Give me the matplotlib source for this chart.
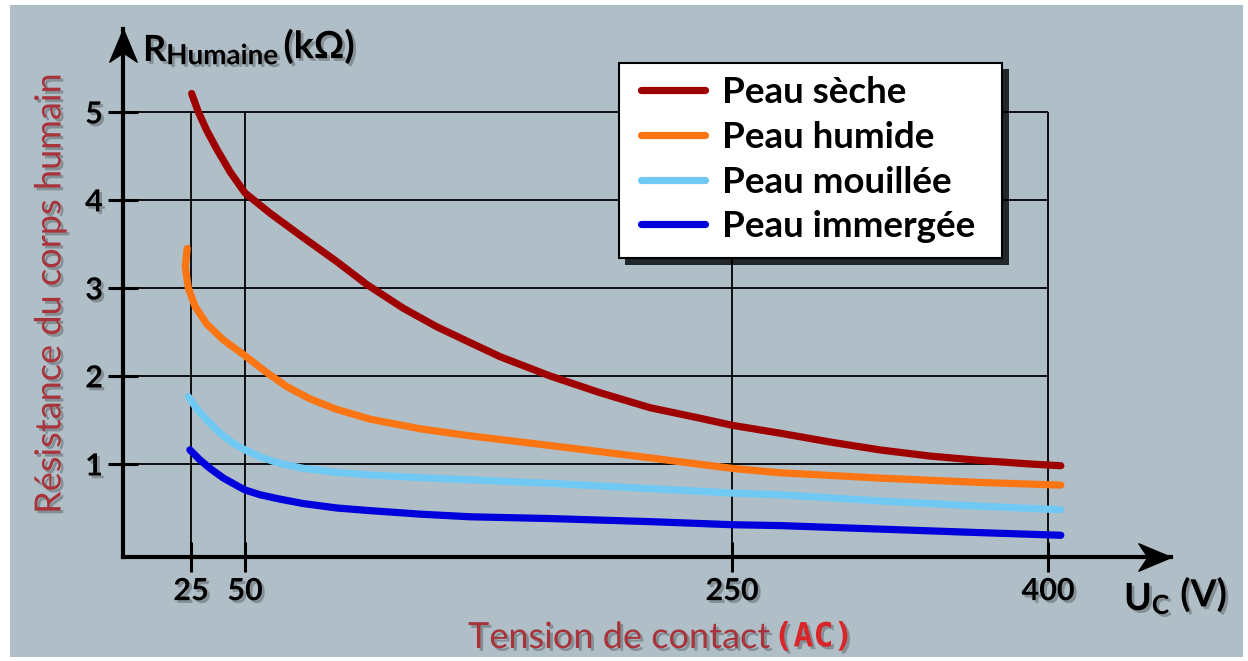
"""Body resistance versus contact voltage for four skin conditions."""

import matplotlib

matplotlib.use("Agg")
import matplotlib.pyplot as plt
import matplotlib.patheffects as pe
import numpy as np
from matplotlib.lines import Line2D
from matplotlib.markers import MarkerStyle
from matplotlib.patches import Rectangle
from matplotlib.path import Path
from matplotlib.ticker import NullLocator

# Values (voltage in V, resistance in kOhm)
dry_v = [25.3, 28.4, 32.3, 36.9, 43.1, 50, 60.3, 72.6, 87.7, 100, 115, 128.7, 142.4,
         154.7, 175.3, 195.8, 216.3, 236.9, 250, 272.8, 296.5, 320.2, 344, 367.7, 391.4, 406.1]
dry_r = [5.21, 5.00, 4.79, 4.58, 4.32, 4.08, 3.85, 3.60, 3.30, 3.04, 2.77, 2.56, 2.38,
         2.22, 2.00, 1.81, 1.64, 1.52, 1.44, 1.35, 1.25, 1.16, 1.09, 1.04, 1.00, 0.98]

humid_v = [23.6, 22.9, 24.0, 26.9, 32.3, 40.0, 50, 58.9, 67.1, 76.7, 87.7, 101.3, 121.9,
           142.4, 175.3, 216.3, 250, 272.8, 320.2, 367.7, 406.1]
humid_r = [3.45, 3.24, 3.00, 2.79, 2.59, 2.41, 2.23, 2.04, 1.88, 1.74, 1.62, 1.51, 1.40,
           1.32, 1.21, 1.07, 0.95, 0.90, 0.84, 0.79, 0.76]

wet_v = [24.0, 27.6, 32.3, 38.4, 44.6, 50, 56.2, 64.5, 74.0, 87.7, 101.3, 121.9, 142.4,
         175.3, 216.3, 250, 272.8, 320.2, 367.7, 406.1]
wet_r = [1.765, 1.63, 1.50, 1.35, 1.235, 1.16, 1.08, 1.005, 0.95, 0.905, 0.875, 0.845, 0.82,
         0.78, 0.72, 0.67, 0.65, 0.58, 0.52, 0.48]

immersed_v = [24.6, 29.2, 33.8, 40.0, 46.2, 50, 56.2, 64.5, 74.0, 87.7, 101.3, 121.9, 142.4,
              175.3, 216.3, 250, 272.8, 320.2, 367.7, 406.1]
immersed_r = [1.16, 1.045, 0.95, 0.84, 0.755, 0.705, 0.65, 0.60, 0.55, 0.50, 0.47, 0.43, 0.40,
              0.38, 0.345, 0.31, 0.30, 0.26, 0.22, 0.19]

series_labels = ["Peau sèche", "Peau humide", "Peau mouillée", "Peau immergée"]
series_colors = ["#9e0000", "#fb7613", "#6fc9f2", "#0000dc"]

x_ticks = [25, 50, 250, 400]
y_ticks = [1, 2, 3, 4, 5]

# The original axis is schematic: tick spacing is not proportional
scale_knots = [-100, 0, 25, 50, 250, 400, 700]
scale_pos = [-145, 123, 191, 245, 732, 1048, 1680]

W, H = 1248, 661
FONT = ["Lato", "DejaVu Sans"]
plt.rcParams["font.family"] = FONT


def forward(x):
    return np.interp(x, scale_knots, scale_pos)


def inverse(p):
    return np.interp(p, scale_pos, scale_knots)


def shadow():
    return [pe.SimplePatchShadow(offset=(2, -2), shadow_rgbFace="k", alpha=0.25), pe.Normal()]


def fig_box(x0, y0, x1, y1, **kwargs):
    """Rectangle given in pixel coordinates measured from the top-left corner."""
    return Rectangle((x0 / W, 1 - y1 / H), (x1 - x0) / W, (y1 - y0) / H,
                     transform=fig.transFigure, **kwargs)


fig = plt.figure(figsize=(W / 100, H / 100), dpi=100, facecolor="white")
fig.patches.append(fig_box(10, 5, 1243, 657, facecolor="#b0bfc7", edgecolor="none", zorder=-1))

ax = fig.add_axes([123 / W, 1 - 557 / H, (1171 - 123) / W, (557 - 29) / H])
ax.patch.set_visible(False)
ax.set_xscale("function", functions=(forward, inverse))
ax.set_xlim(0, 458.4)
ax.set_ylim(-0.057, 5.943)

for side in ("top", "right"):
    ax.spines[side].set_visible(False)
for side in ("left", "bottom"):
    ax.spines[side].set_linewidth(3)

# grid lines stop at the last tick on each axis
ax.hlines(y_ticks, 0, x_ticks[-1], color="black", lw=1.3, zorder=1)
ax.vlines(x_ticks, -0.057, y_ticks[-1], color="black", lw=1.3, zorder=1)

# stealth arrow heads on both axes
up_head = MarkerStyle(Path([(0, 0), (0.42, -1), (0, -0.72), (-0.42, -1), (0, 0)],
                           [1, 2, 2, 2, 79]))
right_head = MarkerStyle(Path([(0, 0), (-1, 0.42), (-0.72, 0), (-1, -0.42), (0, 0)],
                              [1, 2, 2, 2, 79]))
ax.plot([0], [1], marker=up_head, ms=47, color="black", transform=ax.transAxes, clip_on=False)
ax.plot([1], [0], marker=right_head, ms=47, color="black", transform=ax.transAxes, clip_on=False)

all_v = [dry_v, humid_v, wet_v, immersed_v]
all_r = [dry_r, humid_r, wet_r, immersed_r]
for v, r, color in zip(all_v, all_r, series_colors):
    ax.plot(v, r, color=color, lw=5.2, solid_capstyle="round", solid_joinstyle="round", zorder=3)

ax.set_xticks(x_ticks)
ax.set_yticks(y_ticks)
ax.xaxis.set_minor_locator(NullLocator())
ax.tick_params(direction="inout", length=21, width=2.2, labelsize=22, pad=4)
for label in ax.get_xticklabels() + ax.get_yticklabels():
    label.set_fontweight("bold")
    label.set_path_effects(shadow())

# legend box with a dark drop shadow, drawn by hand for the uneven padding
fig.patches.append(fig_box(625, 69, 1009, 265, facecolor="black", alpha=0.8,
                           edgecolor="none", zorder=4))
fig.patches.append(fig_box(619, 63, 1002, 258, facecolor="white", edgecolor="black",
                           lw=1.5, zorder=5))
handles = [Line2D([], [], color=c, lw=5.2, solid_capstyle="round") for c in series_colors]
legend = fig.legend(
    handles, series_labels, loc="upper left",
    bbox_to_anchor=(641 / W, 1 - 76 / H), bbox_transform=fig.transFigure,
    prop={"family": FONT, "weight": "bold", "size": 26.5},
    frameon=False, handlelength=1.75, handletextpad=0.45, labelspacing=0.32,
    borderpad=0, borderaxespad=0,
)
legend.set_zorder(6)

# axis titles (annotations chained from the bottom of the previous text's bbox)
r_text = fig.text(143 / W, 1 - 61 / H, "R", fontsize=26, fontweight="bold",
                  path_effects=shadow())
sub_text = ax.annotate("Humaine", xy=(1, 0), xycoords=r_text, xytext=(0, 2),
                       textcoords="offset points", fontsize=20, fontweight="bold",
                       ha="left", va="baseline", path_effects=shadow())
ax.annotate("(kΩ)", xy=(1, 0), xycoords=sub_text, xytext=(4, 8),
            textcoords="offset points", fontsize=27, fontweight="bold",
            ha="left", va="baseline", path_effects=shadow())

u_text = fig.text(1124 / W, 1 - 610 / H, "U", fontsize=27, fontweight="bold",
                  path_effects=shadow())
c_text = ax.annotate("C", xy=(1, 0), xycoords=u_text, xytext=(0, 1.5),
                     textcoords="offset points", fontsize=19, fontweight="bold",
                     ha="left", va="baseline", path_effects=shadow())
ax.annotate("(V)", xy=(1, 0), xycoords=c_text, xytext=(8, 8.3),
            textcoords="offset points", fontsize=27, fontweight="bold",
            ha="left", va="baseline", path_effects=shadow())

fig.text(50 / W, 1 - 294 / H, "Résistance du corps humain", rotation=90, fontsize=26,
         color="#a8333b", ha="center", va="center", path_effects=shadow())
t_text = fig.text(468 / W, 1 - 648 / H, "Tension de contact ", fontsize=26,
                  color="#a8333b", ha="left", va="baseline", path_effects=shadow())
ax.annotate("(AC)", xy=(1, 0), xycoords=t_text, xytext=(-4, 5.5), textcoords="offset points",
            fontsize=24, fontweight="bold", color="#d8262a", family="DejaVu Sans Mono",
            ha="left", va="baseline", path_effects=shadow())

fig.savefig("out.png", dpi=100, facecolor=fig.get_facecolor())
